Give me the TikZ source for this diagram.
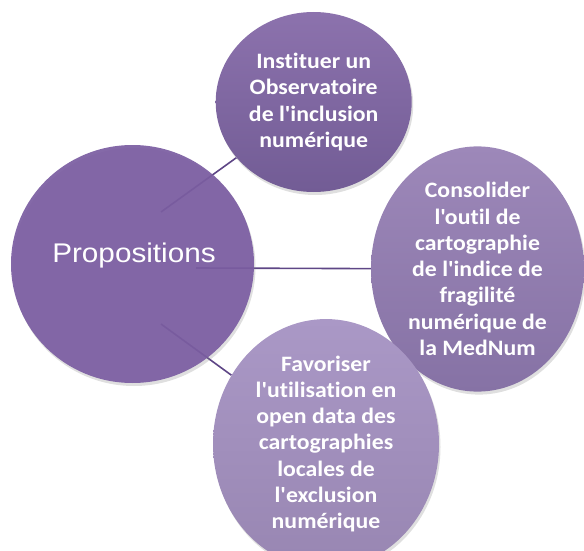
\documentclass[tikz,border=0pt]{standalone}
\usepackage{fontspec}
\setmainfont{Carlito}[FakeStretch=1.08,Ligatures={TeXOff,NoCommon}]
\newfontfamily\propfont{Liberation Sans}[FakeStretch=1.1]
\usetikzlibrary{shapes.geometric,shadows,backgrounds,positioning}
\definecolor{propviolet}{RGB}{122,92,161}
\definecolor{linkviolet}{RGB}{94,70,134}
\tikzset{centre/.style={
            ellipse,
            fill=propviolet,
            fill opacity=0.92,
            inner sep=0pt,
            minimum width=243pt,
            minimum height=238pt,
            drop shadow={opacity=0.25,shadow xshift=1.5pt,shadow yshift=-3pt}
        },
        proptext/.style={
            text=white,
            inner sep=0pt,
            font=\propfont\fontsize{27}{30}\selectfont
        },
        idea/.style={
            ellipse,
            inner sep=0pt,
            align=center,
            text=white,
            font=\bfseries\fontsize{22}{26.3}\selectfont,
            drop shadow={opacity=0.25,shadow xshift=1.5pt,shadow yshift=-3pt}
        },
        link/.style={
            line width=1.6pt,
            draw=linkviolet
        }
    }
\begin{document}
\begin{tikzpicture}[x=1pt,y=-1pt]
        \useasboundingbox (0,0) rectangle (584,551);

        \node[centre] (prop) at (132.5,264) {};
        \node[proptext] (ptext) at (134,256) {Propositions};

        \node[idea,minimum width=196pt,minimum height=180pt,
              top color={rgb,255:red,140;green,114;blue,173},
              bottom color={rgb,255:red,114;green,92;blue,149}] (obs) at (313.7,102)
            {Instituer un\\Observatoire\\de l'inclusion\\numérique};
        \node[idea,minimum width=213pt,minimum height=222pt,
              top color={rgb,255:red,157;green,136;blue,185},
              bottom color={rgb,255:red,134;green,114;blue,165}] (carto) at (477.5,269)
            {Consolider\\l'outil de\\cartographie\\de l'indice de\\fragilité\\numérique de\\la MedNum};
        \node[idea,minimum width=226pt,minimum height=212pt,
              top color={rgb,255:red,170;green,152;blue,198},
              bottom color={rgb,255:red,152;green,134;blue,178}] (open) at (326,444)
            {Favoriser\\l'utilisation en\\open data des\\cartographies\\locales de\\l'exclusion\\numérique};

        \coordinate (s1) at (161,212);
        \coordinate (s2) at (196,268);
        \coordinate (s3) at (161,324);

        \begin{scope}[on background layer]
            \draw[link] (s1) -- (obs);
            \draw[link] (s2) -- (carto);
            \draw[link] (s3) -- (open);
        \end{scope}
    \end{tikzpicture}
\end{document}
